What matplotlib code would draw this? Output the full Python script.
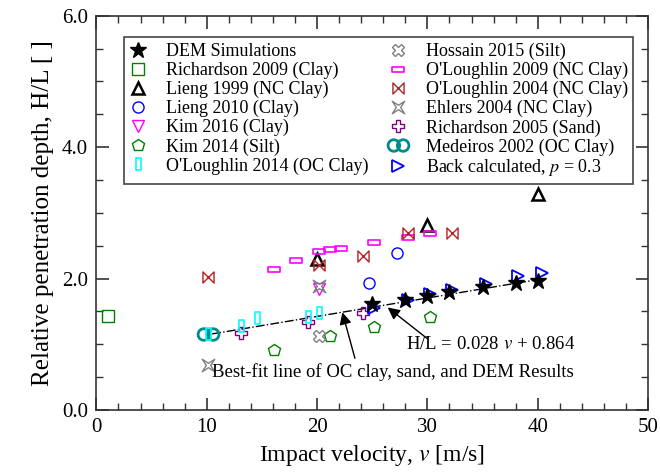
import numpy as np
import matplotlib
matplotlib.use("Agg")
import matplotlib.pyplot as plt
from matplotlib.path import Path
from matplotlib.ticker import MultipleLocator, FormatStrFormatter

plt.rcParams['font.family'] = ['Liberation Serif', 'DejaVu Serif']
plt.rcParams['mathtext.fontset'] = 'stix'

# ---------------- data ----------------
dem_v = [25, 28, 30, 32, 35, 38, 40]
dem_hl = [1.62, 1.68, 1.74, 1.80, 1.87, 1.93, 1.97]

rich09_v = [1.1]
rich09_hl = [1.43]

lieng99_v = [20, 30, 40]
lieng99_hl = [2.29, 2.81, 3.29]

lieng10_v = [24.7, 27.2]
lieng10_hl = [1.93, 2.39]

kim16_v = [20.2]
kim16_hl = [1.84]

kim14_v = [16.1, 21.2, 25.2, 30.2]
kim14_hl = [0.91, 1.12, 1.27, 1.42]

ol14_v = [10.1, 13.1, 14.6, 19.2, 20.2]
ol14_hl = [1.15, 1.28, 1.40, 1.41, 1.48]

hoss15_v = [20.2]
hoss15_hl = [1.12]

ol09_v = [16.1, 18.1, 20.2, 21.2, 22.2, 25.2, 28.2, 30.2]
ol09_hl = [2.15, 2.28, 2.42, 2.45, 2.46, 2.55, 2.63, 2.69]

ol04_v = [10.1, 20.2, 24.2, 28.2, 32.2]
ol04_hl = [2.02, 2.21, 2.34, 2.69, 2.69]

ehlers_v = [10.1, 20.2]
ehlers_hl = [0.685, 1.89]

rich05_v = [13.1, 19.2, 24.2]
rich05_hl = [1.17, 1.34, 1.48]

med02_v = [10.1]
med02_hl = [1.15]

back_v = [25.2, 28.2, 30.2, 32.2, 35.3, 38.2, 40.4]
back_hl = [1.55, 1.68, 1.76, 1.83, 1.92, 2.04, 2.09]

fit_slope = 0.028
fit_icpt = 0.864
fit_range = [10.5, 40]

# ---------------- custom markers ----------------
bowtie = Path([(-1, -1), (1, 1), (1, -1), (-1, 1), (-1, -1)],
              [Path.MOVETO, Path.LINETO, Path.LINETO, Path.LINETO, Path.CLOSEPOLY])

star4 = Path([(1, 1), (0.35, 0), (1, -1), (0, -0.35), (-1, -1), (-0.35, 0),
              (-1, 1), (0, 0.35), (1, 1)],
             [Path.MOVETO] + [Path.LINETO] * 7 + [Path.CLOSEPOLY])

circ = Path.unit_circle()
c1 = Path(circ.vertices * 0.5 + [-0.4, 0], circ.codes)
c2 = Path(circ.vertices * 0.5 + [0.4, 0], circ.codes)
double_circle = Path.make_compound_path(c1, c2)

vrect = Path([(-0.4, -1), (0.4, -1), (0.4, 1), (-0.4, 1), (-0.4, -1)],
             [Path.MOVETO, Path.LINETO, Path.LINETO, Path.LINETO, Path.CLOSEPOLY])
hrect = Path([(-1, -0.4), (1, -0.4), (1, 0.4), (-1, 0.4), (-1, -0.4)],
             [Path.MOVETO, Path.LINETO, Path.LINETO, Path.LINETO, Path.CLOSEPOLY])

fig = plt.figure(figsize=(6.6, 4.74), dpi=100)
ax = fig.add_axes([0.146, 0.135, 0.836, 0.832])

# best-fit line
xf = np.array(fit_range)
ax.plot(xf, fit_slope * xf + fit_icpt, color='black', ls='-.', lw=1.0, zorder=1)


def sc(x, y, marker, color, label, size=8, mew=1.0, z=3):
    ax.plot(x, y, ls='none', marker=marker, ms=size, mfc='none', mec=color,
            mew=mew, label=label, zorder=z)


ax.plot(dem_v, dem_hl, ls='none', marker='*', ms=12, color='black',
        label='DEM Simulations', zorder=5)
sc(rich09_v, rich09_hl, 's', 'green', 'Richardson 2009 (Clay)', size=9)
sc(lieng99_v, lieng99_hl, '^', 'black', 'Lieng 1999 (NC Clay)', size=8, mew=1.8)
sc(lieng10_v, lieng10_hl, 'o', 'blue', 'Lieng 2010 (Clay)', size=8)
sc(kim16_v, kim16_hl, 'v', 'magenta', 'Kim 2016 (Clay)', size=8)
sc(kim14_v, kim14_hl, 'p', 'green', 'Kim 2014 (Silt)', size=9)
sc(ol14_v, ol14_hl, vrect, 'cyan', "O'Loughlin 2014 (OC Clay)", size=9, mew=1.2, z=4)
sc(hoss15_v, hoss15_hl, 'X', 'gray', 'Hossain 2015 (Silt)', size=9)
sc(ol09_v, ol09_hl, hrect, 'magenta', "O'Loughlin 2009 (NC Clay)", size=9, mew=1.2)
sc(ol04_v, ol04_hl, bowtie, '#b22222', "O'Loughlin 2004 (NC Clay)", size=8)
sc(ehlers_v, ehlers_hl, star4, 'gray', 'Ehlers 2004 (NC Clay)', size=9)
sc(rich05_v, rich05_hl, 'P', 'purple', 'Richardson 2005 (Sand)', size=9)
sc(med02_v, med02_hl, double_circle, '#008b8b', 'Medeiros 2002 (OC Clay)', size=15, mew=2.0)
sc(back_v, back_hl, '>', 'blue', r'Back calculated, $p$ = 0.3', size=8, mew=1.3, z=4)

ax.set_xlim(0, 50)
ax.set_ylim(0, 6)
ax.xaxis.set_major_locator(MultipleLocator(10))
ax.xaxis.set_minor_locator(MultipleLocator(2))
ax.yaxis.set_major_locator(MultipleLocator(2))
ax.yaxis.set_minor_locator(MultipleLocator(0.5))
ax.yaxis.set_major_formatter(FormatStrFormatter('%.1f'))
ax.tick_params(which='both', direction='in', top=True, right=True, labelsize=15, color='#333333')
ax.tick_params(which='major', length=9, width=1.2, pad=6)
ax.tick_params(which='minor', length=5, width=1.0)
for s in ax.spines.values():
    s.set_linewidth(1.2)
    s.set_color('#333333')

ax.set_xlabel(r'Impact velocity, $v$ [m/s]', fontsize=17, labelpad=4)
ax.set_ylabel('Relative penetration depth, H/L [ ]', fontsize=18, labelpad=6)

leg = ax.legend(loc='upper left', bbox_to_anchor=(0.05, 0.945), ncol=2, fontsize=13,
                frameon=True, fancybox=False, edgecolor='#444444', framealpha=1,
                handlelength=1.0, handletextpad=1.05, columnspacing=1.1,
                labelspacing=0.1, borderpad=0.3, borderaxespad=0)
leg.get_frame().set_linewidth(1.2)

arrow_kw = dict(arrowstyle='-|>', color='black', lw=1.0,
                mutation_scale=18, shrinkA=0, shrinkB=0)
ax.text(28.05, 0.99, r'H/L = 0.028 $v$ + 0.864', fontsize=13.5, va='center', ha='left')
ax.annotate('', xy=(26.4, 1.56), xytext=(29.96, 1.09), arrowprops=arrow_kw)
ax.text(26.9, 0.58, 'Best-fit line of OC clay, sand, and DEM Results', fontsize=13.5,
        va='center', ha='center')
ax.annotate('', xy=(22.29, 1.487), xytext=(23.43, 0.787), arrowprops=arrow_kw)

fig.savefig('out.png', dpi=100)
